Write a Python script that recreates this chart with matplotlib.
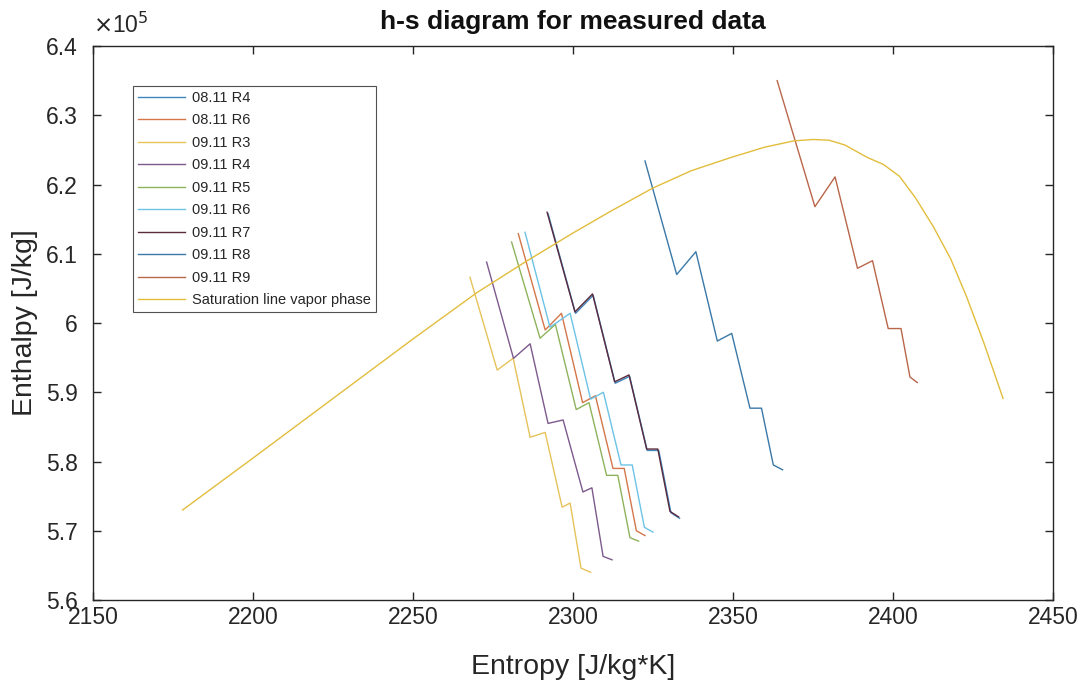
import numpy as np
import matplotlib.pyplot as plt
from matplotlib.ticker import FuncFormatter

# entropy [J/kg*K] and enthalpy [x1e5 J/kg]
s_0811_r4 = [2292.2, 2300.8, 2306.3, 2313.2, 2317.7, 2323.2, 2326.8, 2330.6, 2333.3]
h_0811_r4 = [6.158, 6.014, 6.040, 5.913, 5.923, 5.816, 5.816, 5.726, 5.718]

s_0811_r6 = [2282.9, 2291.3, 2296.4, 2303.0, 2307.0, 2312.5, 2316.0, 2319.8, 2322.5]
h_0811_r6 = [6.129, 5.990, 6.014, 5.885, 5.895, 5.790, 5.790, 5.700, 5.693]

s_0911_r3 = [2267.8, 2276.3, 2281.3, 2286.6, 2291.3, 2296.6, 2299.1, 2302.5, 2305.5]
h_0911_r3 = [6.066, 5.932, 5.949, 5.835, 5.842, 5.734, 5.740, 5.646, 5.640]

s_0911_r4 = [2273.0, 2281.4, 2286.6, 2292.2, 2296.9, 2303.1, 2305.9, 2309.4, 2312.2]
h_0911_r4 = [6.088, 5.949, 5.970, 5.855, 5.860, 5.756, 5.762, 5.663, 5.658]

s_0911_r5 = [2280.8, 2289.7, 2294.5, 2301.0, 2305.0, 2310.5, 2314.0, 2317.8, 2320.5]
h_0911_r5 = [6.117, 5.978, 5.998, 5.875, 5.885, 5.780, 5.780, 5.690, 5.685]

s_0911_r6 = [2285.0, 2292.8, 2299.1, 2305.5, 2309.5, 2315.0, 2318.5, 2322.3, 2325.0]
h_0911_r6 = [6.131, 5.994, 6.014, 5.890, 5.900, 5.795, 5.795, 5.705, 5.698]

s_0911_r7 = [2291.9, 2300.6, 2306.1, 2313.0, 2317.5, 2323.0, 2326.5, 2330.3, 2333.0]
h_0911_r7 = [6.160, 6.016, 6.042, 5.915, 5.925, 5.818, 5.818, 5.728, 5.720]

s_0911_r8 = [2322.5, 2332.4, 2338.4, 2345.1, 2349.6, 2355.3, 2358.9, 2362.6, 2365.5]
h_0911_r8 = [6.234, 6.070, 6.103, 5.974, 5.985, 5.877, 5.877, 5.795, 5.788]

s_0911_r9 = [2363.8, 2375.6, 2381.9, 2388.9, 2393.6, 2398.5, 2402.5, 2405.3, 2407.6]
h_0911_r9 = [6.350, 6.168, 6.211, 6.079, 6.090, 5.992, 5.992, 5.922, 5.914]

s_sat = [2178, 2200, 2225, 2250, 2270, 2285, 2300, 2312, 2325, 2337, 2350, 2360,
         2369, 2375, 2380, 2385, 2392, 2397, 2402, 2407, 2412.5, 2418, 2423,
         2428.5, 2434.4]
h_sat = [5.730, 5.805, 5.891, 5.977, 6.044, 6.088, 6.130, 6.162, 6.195, 6.220,
         6.240, 6.254, 6.263, 6.265, 6.264, 6.257, 6.239, 6.229, 6.212, 6.181,
         6.140, 6.093, 6.038, 5.970, 5.891]

runs = [
    ('08.11 R4', s_0811_r4, h_0811_r4, '#3f86bd'),
    ('08.11 R6', s_0811_r6, h_0811_r6, '#d4764a'),
    ('09.11 R3', s_0911_r3, h_0911_r3, '#e6c35a'),
    ('09.11 R4', s_0911_r4, h_0911_r4, '#7d5a8c'),
    ('09.11 R5', s_0911_r5, h_0911_r5, '#8fb35c'),
    ('09.11 R6', s_0911_r6, h_0911_r6, '#6cc3e6'),
    ('09.11 R7', s_0911_r7, h_0911_r7, '#5a2a3e'),
    ('09.11 R8', s_0911_r8, h_0911_r8, '#3a78a8'),
    ('09.11 R9', s_0911_r9, h_0911_r9, '#b9664a'),
    ('Saturation line vapor phase', s_sat, h_sat, '#e2bd3c'),
]

plt.rcParams['font.family'] = ['Liberation Sans', 'DejaVu Sans']

fig = plt.figure(figsize=(10.87, 6.91), dpi=100)
ax = fig.add_axes([0.0856, 0.1317, 0.8831, 0.8017])

for label, s, h, c in runs:
    ax.plot(s, np.array(h) * 1e5, color=c, lw=1.0, label=label)

ax.set_xlim(2150, 2450)
ax.set_ylim(5.6e5, 6.4e5)
ax.set_xticks(np.arange(2150, 2451, 50))
ax.set_yticks(np.arange(5.6, 6.41, 0.1) * 1e5)
ax.yaxis.set_major_formatter(FuncFormatter(lambda v, p: f'{v / 1e5:g}'))

ax.tick_params(direction='in', top=True, right=True, length=6, width=1.0,
               labelsize=16.5, colors='#262626')
ax.tick_params(axis='x', pad=4)
ax.tick_params(axis='y', pad=11)
for sp in ax.spines.values():
    sp.set_color('#262626')
    sp.set_linewidth(1.0)

ax.text(0.0, 1.015, r'$\times$10$^5$', transform=ax.transAxes, fontsize=16.5,
        color='#262626', ha='left', va='bottom')

ax.set_xlabel('Entropy [J/kg*K]', fontsize=20.5, color='#262626', labelpad=18)
ax.set_ylabel('Enthalpy [J/kg]', fontsize=20.5, color='#262626', labelpad=6)
ax.set_title('h-s diagram for measured data', fontsize=19, fontweight='bold',
             color='#111111', pad=12)

leg = ax.legend(loc='upper left', bbox_to_anchor=(0.042, 0.928), fontsize=10.5,
                frameon=True, fancybox=False, edgecolor='#262626',
                handlelength=3.2, labelspacing=0.58, borderpad=0.35,
                handletextpad=0.45, borderaxespad=0)
leg.get_frame().set_linewidth(0.8)
for t in leg.get_texts():
    t.set_color('#262626')

fig.savefig('out.png', dpi=100)
